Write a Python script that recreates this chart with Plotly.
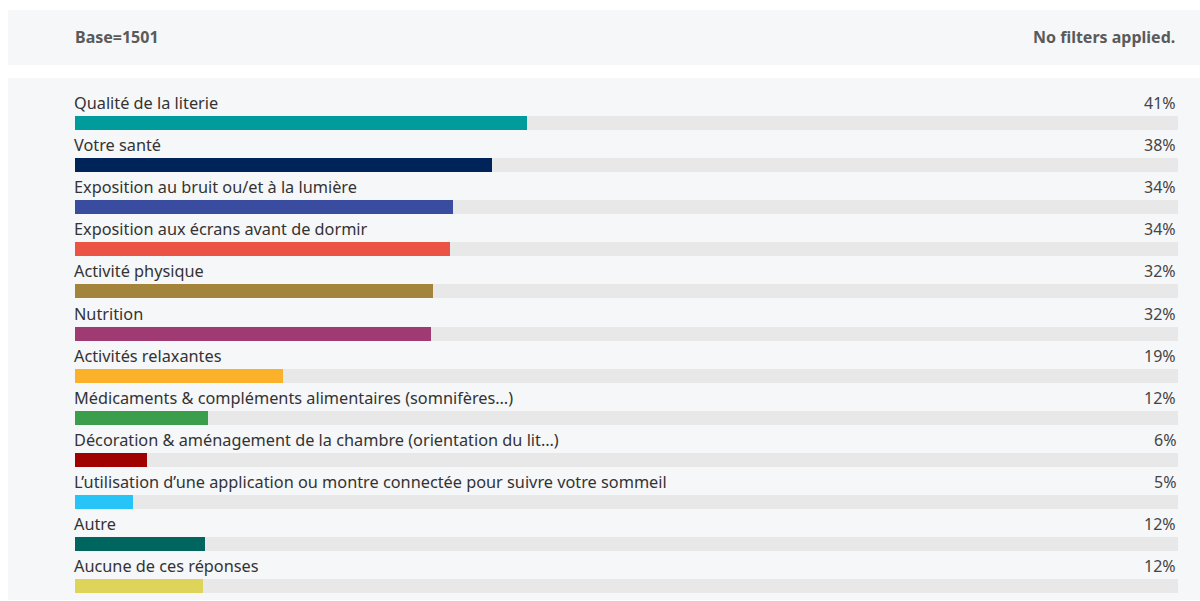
import plotly.graph_objects as go

categories = [
    "Qualité de la literie",
    "Votre santé",
    "Exposition au bruit ou/et à la lumière",
    "Exposition aux écrans avant de dormir",
    "Activité physique",
    "Nutrition",
    "Activités relaxantes",
    "Médicaments & compléments alimentaires (somnifères…)",
    "Décoration & aménagement de la chambre (orientation du lit…)",
    "L’utilisation d’une application ou montre connectée pour suivre votre sommeil",
    "Autre",
    "Aucune de ces réponses",
]
values = [41.0, 37.8, 34.3, 34.0, 32.5, 32.3, 18.9, 12.1, 6.5, 5.3, 11.8, 11.6]
colors = ["#009b9b", "#00245a", "#3a4ca0", "#eb5444", "#a3843a", "#a03a72",
          "#fbb22a", "#3a9e4a", "#a00000", "#26c4f7", "#00645f", "#dfd45a"]
base_text = "Base=1501"
filter_text = "No filters applied."

W, H = 1200, 601
row0, step = 123.0, 42.1
y_top = -row0 / step
y_bot = (H - row0) / step
pos = list(range(len(categories)))

fig = go.Figure()
fig.add_trace(go.Bar(x=[100] * len(pos), y=pos, orientation="h", width=14 / step,
                     marker=dict(color="#e8e8e8", line=dict(width=0)), hoverinfo="skip"))
fig.add_trace(go.Bar(x=values, y=pos, orientation="h", width=14 / step,
                     marker=dict(color=colors, line=dict(width=0)),
                     hovertext=categories, hoverinfo="text+x"))

annotations = []
for i, (c, v) in enumerate(zip(categories, values)):
    annotations.append(dict(x=0, y=i, xref="x", yref="y", text=c, showarrow=False,
                            xanchor="left", yanchor="middle", yshift=20, xshift=-3,
                            font=dict(family="Noto Sans", size=16.3, color="#333333")))
    annotations.append(dict(x=100, y=i, xref="x", yref="y", text=f"{round(v):.0f}%",
                            showarrow=False, xanchor="right", yanchor="middle",
                            yshift=20, xshift=0,
                            font=dict(family="Noto Sans", size=16, color="#444444")))
annotations.append(dict(x=75 / W, y=1 - 37 / H, xref="paper", yref="paper", text=f"<b>{base_text}</b>",
                        showarrow=False, xanchor="left", yanchor="middle", xshift=-2,
                        font=dict(family="Noto Sans", size=16, color="#5a5a5a")))
annotations.append(dict(x=1177 / W, y=1 - 37 / H, xref="paper", yref="paper", text=f"<b>{filter_text}</b>",
                        showarrow=False, xanchor="right", yanchor="middle",
                        font=dict(family="Noto Sans", size=16, color="#5a5a5a")))

shapes = [
    dict(type="rect", xref="paper", yref="paper", x0=8 / W, x1=1, y0=1 - 65 / H, y1=1 - 10 / H,
         fillcolor="#f6f7f9", line=dict(width=0), layer="below"),
    dict(type="rect", xref="paper", yref="paper", x0=8 / W, x1=1, y0=1 - 600 / H, y1=1 - 78 / H,
         fillcolor="#f6f7f9", line=dict(width=0), layer="below"),
]

fig.update_layout(
    width=W, height=H, margin=dict(l=0, r=0, t=0, b=0),
    paper_bgcolor="white", plot_bgcolor="rgba(0,0,0,0)",
    barmode="overlay", showlegend=False, bargap=0,
    xaxis=dict(domain=[75 / W, 1178 / W], range=[0, 100], visible=False, fixedrange=True),
    yaxis=dict(domain=[0, 1], range=[y_bot, y_top], visible=False, fixedrange=True),
    annotations=annotations, shapes=shapes,
)
fig.write_html("out.html")
